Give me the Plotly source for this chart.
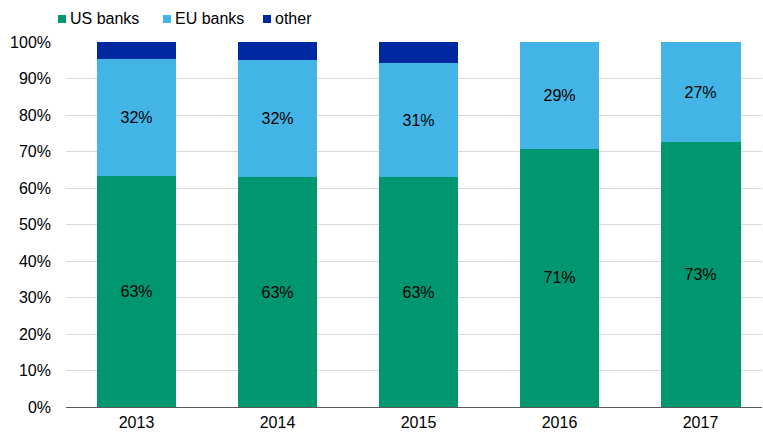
import plotly.graph_objects as go

# Share of the market by bank origin, per year (percent of total)
years = ["2013", "2014", "2015", "2016", "2017"]
us_banks = [63.2, 63.0, 63.0, 70.7, 72.6]
eu_banks = [32.1, 32.2, 31.2, 29.3, 27.4]
other = [4.7, 4.8, 5.8, 0.0, 0.0]

series_names = ["US banks", "EU banks", "other"]
series_colors = ["#00966F", "#42B4E6", "#0028A0"]

y_ticks = [0, 10, 20, 30, 40, 50, 60, 70, 80, 90, 100]
y_tick_text = [f"{v}%" for v in y_ticks]

FONT = "Liberation Sans, Arial, sans-serif"
FONT_SIZE = 16
BAR_WIDTH = 0.567

fig = go.Figure()
for name, vals, color, labelled in zip(series_names, [us_banks, eu_banks, other],
                                       series_colors, [True, True, False]):
    fig.add_trace(go.Bar(
        x=years, y=vals, name=name, width=BAR_WIDTH,
        marker=dict(color=color, line=dict(width=0)),
        texttemplate="%{y:.0f}%" if labelled else None,
        textposition="inside" if labelled else "none",
        insidetextanchor="middle",
        textangle=0,
        constraintext="none",
        insidetextfont=dict(family=FONT, size=FONT_SIZE, color="#000000"),
        showlegend=False,
        hoverinfo="skip",
    ))

# Compact legend row above the plot: small square swatch + label
legend_x = [58, 163, 263]
for name, color, px in zip(series_names, series_colors, legend_x):
    fig.add_shape(type="rect", xref="paper", yref="paper",
                  x0=(px - 66) / 696, x1=(px + 8 - 66) / 696,
                  y0=1 + (42 - 23) / 365, y1=1 + (42 - 15) / 365,
                  fillcolor=color, line=dict(width=0))
    fig.add_annotation(xref="paper", yref="paper",
                       x=(px + 10 - 66) / 696, y=1 + (42 - 19) / 365,
                       text=name, showarrow=False, xanchor="left", yanchor="middle",
                       font=dict(family=FONT, size=FONT_SIZE, color="#000000"))

fig.update_layout(
    barmode="stack",
    width=763, height=432,
    margin=dict(l=66, r=1, t=42, b=25),
    paper_bgcolor="white", plot_bgcolor="white",
    font=dict(family=FONT, size=FONT_SIZE, color="#000000"),
    showlegend=False,
    xaxis=dict(
        type="category",
        range=[-0.5, 4.436],
        automargin=False,
        showgrid=False,
        showline=True, linecolor="#595959", linewidth=1,
        ticks="", ticklabelstandoff=1,
        tickfont=dict(family=FONT, size=FONT_SIZE, color="#000000"),
    ),
    yaxis=dict(
        range=[0, 100],
        automargin=False,
        tickvals=y_ticks, ticktext=y_tick_text,
        showgrid=True, gridcolor="#D9D9D9", gridwidth=1,
        zeroline=False, showline=False,
        ticks="", ticklabelstandoff=14,
        tickfont=dict(family=FONT, size=FONT_SIZE, color="#000000"),
    ),
)

fig.write_html("out.html")
